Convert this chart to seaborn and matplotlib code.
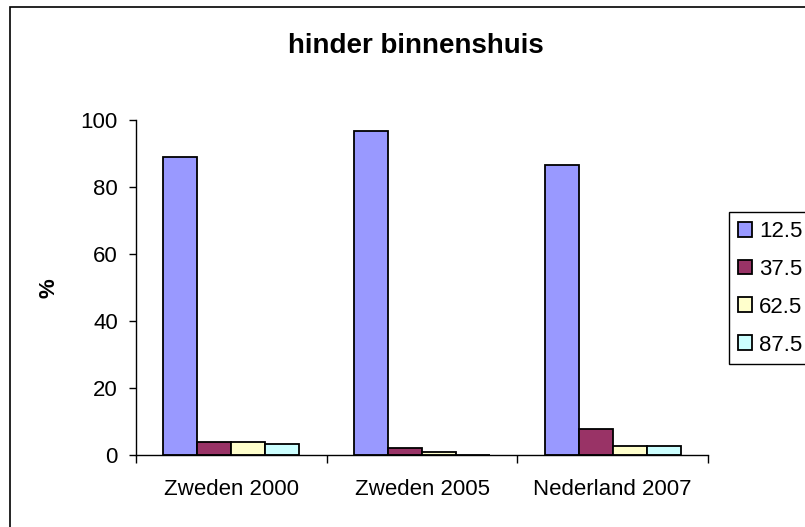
import numpy as np
import pandas as pd
import matplotlib
matplotlib.use("Agg")
import matplotlib.pyplot as plt
import seaborn as sns
from matplotlib.patches import Rectangle

sns.set_style("white")
plt.rcParams["font.family"] = ["Liberation Sans", "DejaVu Sans"]
plt.rcParams["text.color"] = "black"
plt.rcParams["xtick.color"] = "black"
plt.rcParams["ytick.color"] = "black"
plt.rcParams["axes.labelcolor"] = "black"

# ---------------------------------------------------------------
# data
# ---------------------------------------------------------------
groups = ["Zweden 2000", "Zweden 2005", "Nederland 2007"]
classes = ["12.5", "37.5", "62.5", "87.5"]
v_125 = [89.0, 96.7, 86.7]
v_375 = [4.0, 2.2, 7.9]
v_625 = [4.0, 1.1, 2.8]
v_875 = [3.4, 0.0, 2.8]
colors = ["#9999FF", "#993366", "#FFFFCC", "#CCFFFF"]

rows = []
for cls, vals in zip(classes, [v_125, v_375, v_625, v_875]):
    for g, v in zip(groups, vals):
        rows.append({"groep": g, "klasse": cls, "pct": v})
df = pd.DataFrame(rows)

fig = plt.figure(figsize=(8.05, 5.27), dpi=100)
ax = fig.add_axes([0.169, 0.1357, 0.7105, 0.636])

sns.barplot(data=df, x="groep", y="pct", hue="klasse", order=groups,
            hue_order=classes, palette=colors, width=0.714, gap=0,
            edgecolor="black", linewidth=1.3, saturation=1, ax=ax)

ax.set_ylim(0, 100)
ax.set_xlim(-0.5, 2.5)
ax.set_yticks([0, 20, 40, 60, 80, 100])
ax.tick_params(axis="y", direction="out", length=5, width=1, pad=8,
               labelsize=16, left=True, color="black")

# category boundaries as major ticks, names centred as minor ticks
ax.set_xticks([-0.5, 0.5, 1.5, 2.5])
ax.set_xticklabels([])
ax.set_xticks([0, 1, 2], minor=True)
ax.set_xticklabels(groups, minor=True)
ax.tick_params(axis="x", which="major", direction="out", length=5.5, width=1,
               bottom=True, color="black")
ax.tick_params(axis="x", which="minor", length=0, pad=17, labelsize=16)

ax.set_xlabel("")
ax.set_ylabel("%", fontsize=16, fontweight="bold", labelpad=15)

for side in ["top", "right"]:
    ax.spines[side].set_visible(False)
for side in ["left", "bottom"]:
    ax.spines[side].set_color("black")
    ax.spines[side].set_linewidth(1)

fig.text(0.516, 0.913, "hinder binnenshuis", ha="center", va="center",
         fontsize=20, fontweight="bold")

ax.get_legend().remove()
handles, labels = ax.get_legend_handles_labels()
leg = fig.legend(handles, labels, loc="upper left",
                 bbox_to_anchor=(0.9056, 0.5977), frameon=True,
                 fancybox=False, edgecolor="black", framealpha=1,
                 fontsize=16, handlelength=0.65, handleheight=0.65,
                 handletextpad=0.3, labelspacing=0.76, borderpad=0.4,
                 borderaxespad=0)
leg.get_frame().set_linewidth(1)

# chart-area border, running off the right and bottom edge
fig.patches.append(Rectangle((10 / 805, -0.2), 1.2, 1.2 - 7 / 527,
                             transform=fig.transFigure, fill=False,
                             edgecolor="black", linewidth=1.2))

fig.savefig("out.png", dpi=100)
